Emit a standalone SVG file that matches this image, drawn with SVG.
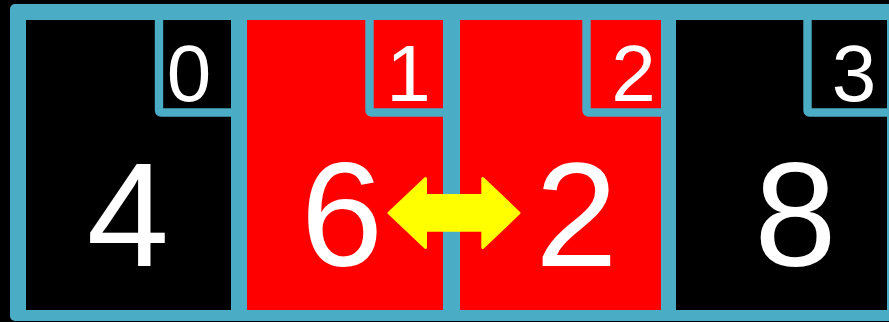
<svg xmlns="http://www.w3.org/2000/svg" width="889" height="322" viewBox="0 0 889 322">
  <style>
    .big { font-family: "Liberation Sans", Arial, sans-serif; font-size: 148px; fill: #ffffff; text-anchor: middle; }
    .lbl { font-family: "Liberation Sans", Arial, sans-serif; font-size: 80px; fill: #ffffff; text-anchor: middle; }
    .box { fill: none; stroke: #4BACC6; stroke-width: 8.4; stroke-linejoin: round; }
    .black { fill: #000000; }
    .red { fill: #FF0000; }
    .arrow { fill: #FFFF00; stroke: #FFFF00; stroke-width: 3; stroke-linejoin: round; }
  </style>
  <rect x="0" y="0" width="889" height="322" fill="#000000"/>
  <rect id="frame" x="10" y="4" width="886" height="317" rx="5" fill="#4BACC6"/>

  <g id="cell0">
    <rect class="black" x="26" y="20" width="205" height="290"/>
    <rect class="box" x="159" y="12" width="80" height="100.5" rx="2"/>
    <text class="lbl" x="189" y="101">0</text>
    <text class="big" x="128" y="266">4</text>
  </g>
  <g id="cell1">
    <rect class="red" x="247" y="20" width="196" height="290"/>
    <rect class="box" x="369.5" y="12" width="81.5" height="100.5" rx="2"/>
    <text class="lbl" x="408.5" y="101">1</text>
    <text class="big" x="342" y="266">6</text>
  </g>
  <g id="cell2">
    <rect class="red" x="460" y="20" width="201" height="290"/>
    <rect class="box" x="586.5" y="12" width="81.5" height="100.5" rx="2"/>
    <text class="lbl" x="633.5" y="101">2</text>
    <text class="big" x="576.5" y="266">2</text>
  </g>
  <g id="cell3">
    <rect class="black" x="676" y="20" width="211" height="290"/>
    <rect class="box" x="807.5" y="12" width="90" height="100.5" rx="2"/>
    <text class="lbl" x="854" y="101">3</text>
    <text class="big" x="795.5" y="266">8</text>
  </g>

  <g id="connectors">
    <polygon class="arrow" points="389,213 425.5,178.5 425.5,195.5 482.8,195.5 482.8,178.5 519,213 482.8,247.5 482.8,230.2 425.5,230.2 425.5,247.5"/>
  </g>
</svg>
